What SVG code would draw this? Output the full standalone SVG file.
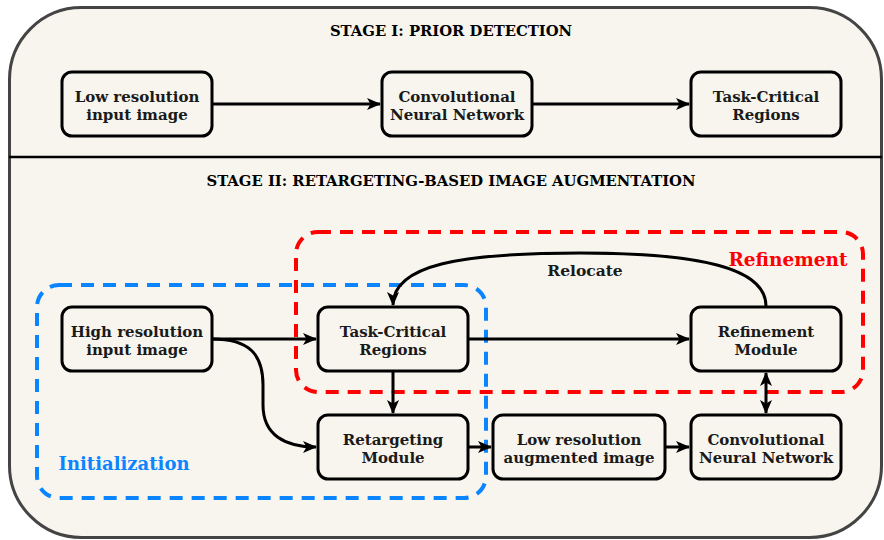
<svg xmlns="http://www.w3.org/2000/svg" width="884" height="540" viewBox="0 0 884 540">
<defs>
<style>
.box{fill:#f7f5ee;stroke:#000;stroke-width:3}
.t{font-family:"DejaVu Serif","Liberation Serif",serif;font-weight:bold;font-size:15px;fill:#1a1a1a;text-anchor:middle}
.title{font-family:"DejaVu Serif","Liberation Serif",serif;font-weight:bold;font-size:14.8px;fill:#000;text-anchor:middle}
.c{fill:none;stroke:#000;stroke-width:3}
</style>
<marker id="ah" viewBox="0 0 14 12" refX="13" refY="6" markerWidth="14" markerHeight="12" markerUnits="userSpaceOnUse" orient="auto-start-reverse">
<path d="M0,0 L14,6 L0,12 L3.5,6 Z" fill="#000"/>
</marker>
</defs>
<rect x="9.5" y="7.5" width="872" height="530" rx="72" ry="72" fill="#f7f5ee" stroke="#444" stroke-width="3"/>
<line x1="9" y1="157" x2="882" y2="157" stroke="#000" stroke-width="2.5"/>
<text class="title" x="451" y="36">STAGE I: PRIOR DETECTION</text>
<text class="title" x="451" y="186">STAGE II: RETARGETING-BASED IMAGE AUGMENTATION</text>

<g id="groups">
<rect x="37" y="285" width="449" height="213" rx="22" fill="none" stroke="#0a84ff" stroke-width="4" stroke-dasharray="13 9"/>
<rect x="296" y="232" width="567" height="160" rx="22" fill="none" stroke="#ff0000" stroke-width="4" stroke-dasharray="13 9"/>
<text x="124" y="470" font-family="DejaVu Serif,serif" font-weight="bold" font-size="18" fill="#0a84ff" text-anchor="middle">Initialization</text>
<text x="788" y="266" font-family="DejaVu Serif,serif" font-weight="bold" font-size="18.5" fill="#ff0000" text-anchor="middle">Refinement</text>
<text x="585" y="276" class="t" style="font-size:15.5px">Relocate</text>
</g>

<g id="connectors">
<path class="c" d="M212 104 L380 104" marker-end="url(#ah)"/>
<path class="c" d="M532 104 L689 104" marker-end="url(#ah)"/>
<path class="c" d="M212 339 L316 339" marker-end="url(#ah)"/>
<path class="c" d="M212 339 C250 339 263 355 263 385 L263 405 C263 435 285 447 316 447" marker-end="url(#ah)"/>
<path class="c" d="M393 371 L393 413" marker-end="url(#ah)"/>
<path class="c" d="M468 339 L689 339" marker-end="url(#ah)"/>
<path class="c" d="M468 447 L491 447" marker-end="url(#ah)"/>
<path class="c" d="M665 447 L689 447" marker-end="url(#ah)"/>
<path class="c" d="M766 373 L766 413" marker-start="url(#ah)" marker-end="url(#ah)"/>
<path class="c" d="M766 306 C766 268 700 253 580 253 C460 253 393 265 393 305" marker-end="url(#ah)"/>
</g>

<g id="n1"><rect class="box" x="62" y="72" width="150" height="64" rx="10"/><text class="t" x="137" y="102">Low resolution</text><text class="t" x="137" y="120">input image</text></g>
<g id="n2"><rect class="box" x="382" y="72" width="150" height="64" rx="10"/><text class="t" x="457" y="102">Convolutional</text><text class="t" x="457" y="120">Neural Network</text></g>
<g id="n3"><rect class="box" x="691" y="72" width="150" height="64" rx="10"/><text class="t" x="766" y="102">Task-Critical</text><text class="t" x="766" y="120">Regions</text></g>
<g id="n4"><rect class="box" x="62" y="307" width="150" height="64" rx="10"/><text class="t" x="137" y="337">High resolution</text><text class="t" x="137" y="355">input image</text></g>
<g id="n5"><rect class="box" x="318" y="307" width="150" height="64" rx="10"/><text class="t" x="393" y="337">Task-Critical</text><text class="t" x="393" y="355">Regions</text></g>
<g id="n6"><rect class="box" x="691" y="307" width="150" height="64" rx="10"/><text class="t" x="766" y="337">Refinement</text><text class="t" x="766" y="355">Module</text></g>
<g id="n7"><rect class="box" x="318" y="415" width="150" height="64" rx="10"/><text class="t" x="393" y="445">Retargeting</text><text class="t" x="393" y="463">Module</text></g>
<g id="n8"><rect class="box" x="493" y="415" width="172" height="64" rx="10"/><text class="t" x="579" y="445">Low resolution</text><text class="t" x="579" y="463">augmented image</text></g>
<g id="n9"><rect class="box" x="691" y="415" width="150" height="64" rx="10"/><text class="t" x="766" y="445">Convolutional</text><text class="t" x="766" y="463">Neural Network</text></g>
</svg>
